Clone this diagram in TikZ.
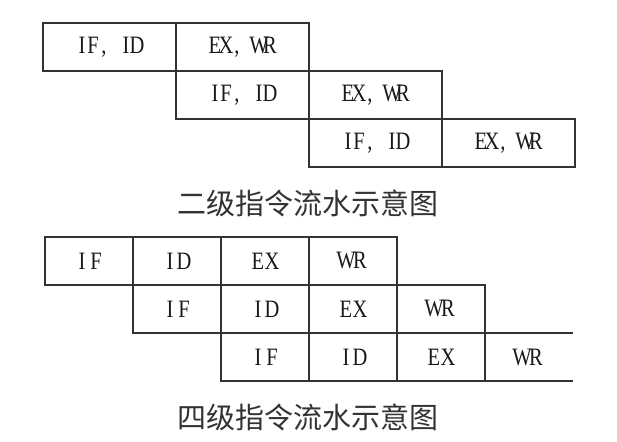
\documentclass[tikz,border=0pt]{standalone}
\usepackage{fontspec}
\newfontfamily\stagefont[FakeStretch=0.82]{Liberation Serif}
\newfontfamily\cjk{Noto Sans CJK SC}
\usetikzlibrary{positioning}
% one fixed-width box per character
\makeatletter
\newcommand\stagetext[2]{\@tfor\stagech:=#2\do{\makebox[#1]{\stagech}}}
\makeatother
\tikzset{
	cell/.style={draw=black!80, line width=1.4pt, inner sep=0pt, outer sep=0pt,
		font=\stagefont\fontsize{25}{25}\selectfont, text=black!90},
	wide/.style={cell, minimum width=133pt, minimum height=48pt},
	narrow/.style={cell, minimum width=88pt, minimum height=48pt},
	caption/.style={font=\cjk\fontsize{29}{29}\selectfont, text=black!80},
	edge/.style={draw=black!80, line width=1.4pt}
}

\begin{document}
\begin{tikzpicture}[x=1pt, y=-1pt]
	\useasboundingbox (0, 0) rectangle (617, 441);
	% two stages
	\node[wide] (a11) at (109.5, 47) {\stagetext{11pt}{IF,~ID}};
	\node[wide, right=0pt of a11] (a12) {\stagetext{11pt}{EX,~WR}};
	\node[wide, below=0pt of a12] (a22) {\stagetext{11pt}{IF,~ID}};
	\node[wide, right=0pt of a22] (a23) {\stagetext{11pt}{EX,~WR}};
	\node[wide, below=0pt of a23] (a33) {\stagetext{11pt}{IF,~ID}};
	\node[wide, right=0pt of a33] (a34) {\stagetext{11pt}{EX,~WR}};
	\node[caption] (cap2) at (307.5, 203) {二级指令流水示意图};
	% four stages
	\node[narrow] (b11) at (89, 261) {\stagetext{14pt}{IF}};
	\node[narrow, right=0pt of b11] (b12) {\stagetext{14pt}{ID}};
	\node[narrow, right=0pt of b12] (b13) {\stagetext{14pt}{EX}};
	\node[narrow, right=0pt of b13] (b14) {\stagetext{14pt}{WR}};
	\node[narrow, below=0pt of b12] (b22) {\stagetext{14pt}{IF}};
	\node[narrow, right=0pt of b22] (b23) {\stagetext{14pt}{ID}};
	\node[narrow, right=0pt of b23] (b24) {\stagetext{14pt}{EX}};
	\node[narrow, right=0pt of b24] (b25) {\stagetext{14pt}{WR}};
	\node[narrow, below=0pt of b23] (b33) {\stagetext{14pt}{IF}};
	\node[narrow, right=0pt of b33] (b34) {\stagetext{14pt}{ID}};
	\node[narrow, right=0pt of b34] (b35) {\stagetext{14pt}{EX}};
	\node[narrow, draw=none, right=0pt of b35] (b36) {\stagetext{14pt}{WR}};
	\draw[edge] (b36.north west) -- (b36.north east);
	\draw[edge] (b36.south west) -- (b36.south east);
	\node[caption] (cap4) at (308, 417) {四级指令流水示意图};
\end{tikzpicture}
\end{document}
